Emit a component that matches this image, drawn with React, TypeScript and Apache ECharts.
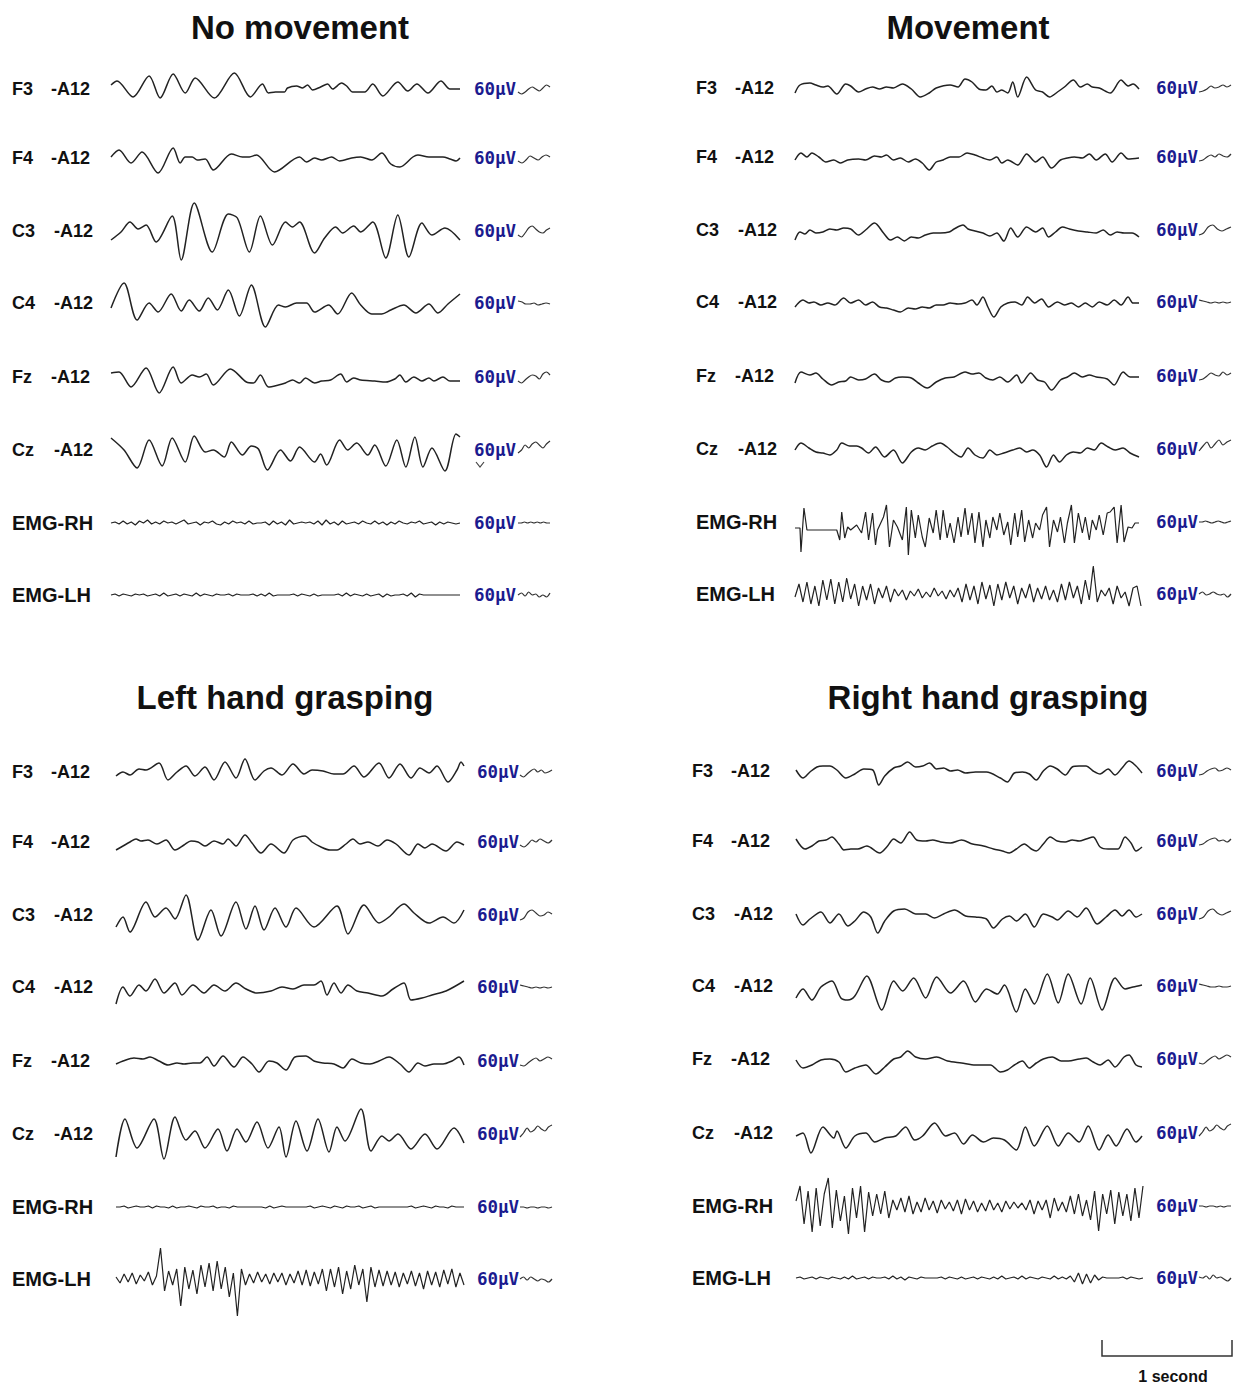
import React, { useEffect, useRef } from "react";
import * as echarts from "echarts";

// ---------- text content ----------
const conditions = ["No movement", "Movement", "Left hand grasping", "Right hand grasping"];
const channels = ["F3", "F4", "C3", "C4", "Fz", "Cz", "EMG-RH", "EMG-LH"];
const reference = "-A12";
const sensitivity = "60μV";
const timeBarLabel = "1 second";

// ---------- traces: [sample (128 Hz), amplitude] extrema, or uniformly sampled amplitude lists ----------
// No movement
const nmF3 = [[0,4],[6,8],[22,-8],[38,13],[49,-9],[62,15],[74,-4],[84,11],[103,-9],[123,16],[139,-8],[151,5],[157,-4],[164,-3],[173,-3],[176,1],[185,3],[191,1],[196,4],[201,-1],[209,2],[216,5],[221,0],[230,6],[235,3],[241,-3],[253,-3],[261,5],[271,-7],[286,7],[296,-2],[305,5],[316,-4],[329,8],[338,0],[348,0]];
const nmF4 = [[0,1],[8,8],[20,-5],[31,6],[47,-15],[62,10],[69,-5],[74,1],[81,1],[86,-2],[94,-1],[102,-12],[120,4],[131,1],[138,1],[145,3],[163,-14],[188,1],[195,-4],[203,0],[210,-2],[220,1],[228,-3],[240,0],[249,1],[260,-2],[270,5],[279,-6],[288,-9],[301,1],[306,3],[317,1],[331,1],[338,-1],[344,-3],[348,0]];
const nmC3 = [[0,-9],[10,-1],[19,9],[27,2],[35,6],[45,-11],[61,15],[70,-29],[83,28],[101,-21],[117,17],[126,13],[138,-21],[149,15],[161,-14],[174,9],[181,4],[188,9],[203,-22],[213,-7],[224,4],[231,-2],[242,5],[249,-1],[261,9],[274,-27],[286,16],[297,-26],[310,8],[320,-4],[333,3],[348,-9]];
const nmC4 = [[0,-5],[13,20],[26,-17],[38,0],[47,-9],[60,9],[70,-8],[78,3],[88,-8],[97,5],[106,-7],[117,13],[128,-13],[140,18],[154,-24],[167,-2],[174,-4],[185,0],[195,0],[203,-9],[217,-2],[226,-11],[240,10],[249,-2],[260,-11],[270,-11],[279,-7],[292,-2],[304,-10],[317,-1],[326,-10],[336,-1],[348,9]];
const nmFz = [[0,4],[8,5],[20,-10],[35,9],[48,-16],[62,10],[70,-6],[81,2],[88,0],[95,3],[102,-8],[119,8],[135,-5],[142,-6],[149,2],[157,-10],[167,-8],[174,-6],[181,-3],[188,-6],[194,-1],[203,-6],[210,-4],[219,-3],[229,3],[235,-5],[242,-1],[249,-3],[263,-4],[274,-5],[283,-2],[288,2],[294,-5],[302,0],[310,-4],[317,-1],[322,-4],[331,0],[338,-4],[348,-4]];
const nmCz = [[0,12],[13,0],[26,-18],[38,10],[51,-16],[61,12],[74,-12],[83,14],[94,-2],[102,0],[113,-7],[120,8],[131,-5],[140,4],[147,1],[156,-20],[169,0],[179,-11],[188,3],[203,-12],[209,-4],[215,-15],[228,10],[236,0],[245,7],[256,-5],[263,5],[274,-16],[285,10],[294,-17],[303,13],[311,-17],[320,2],[333,-21],[344,16],[348,13]];
const nmEmgRH = [0,1,-1,2,-1,1,-2,2,0,3,-1,1,-1,2,0,1,-1,1,3,-1,0,1,-2,1,0,2,-1,-2,1,-1,2,0,1,-1,2,-1,0,0,1,-2,2,-1,1,-2,3,-1,0,1,0,1,-1,2,-2,3,-1,1,-2,2,-1,0,1,-1,2,0,-1,2,-1,1,-2,1,-1,2,0,-1,1,0,2,-1,0,1,-2,1,-1,1,0,-1,0];
const nmEmgLH = [0,1,-1,1,0,-1,1,0,1,-1,0,1,-1,2,-1,0,1,-1,1,0,-1,2,-1,1,0,-1,1,0,0,1,-1,1,0,0,0,1,-1,1,-1,2,-1,0,0,0,0,1,-1,1,0,-1,1,-1,0,0,0,0,1,-1,2,-1,1,0,-1,1,-1,0,1,-2,1,-1,0,0,1,-1,2,-2,1,0,0,0,0,0,0,0,0,0,0];

// Movement
const mvF3 = [[0,-5],[5,3],[15,5],[21,3],[28,1],[33,2],[42,-6],[51,4],[56,2],[64,-4],[71,-1],[78,1],[85,-1],[92,1],[99,0],[108,4],[117,-1],[126,-9],[135,-5],[142,0],[156,3],[164,1],[171,9],[178,6],[185,-1],[192,-2],[198,2],[203,-4],[208,-2],[214,-5],[219,6],[224,-9],[233,11],[242,-2],[249,-4],[256,-9],[264,-4],[271,1],[280,8],[287,1],[294,4],[299,1],[306,0],[317,-5],[328,8],[335,2],[340,4],[346,-1]];
const mvF4 = [[0,-3],[6,4],[12,0],[17,4],[24,0],[31,-5],[39,-3],[46,-6],[53,-3],[64,-2],[71,-3],[80,1],[87,0],[92,2],[99,-3],[106,-1],[114,-5],[121,-2],[128,-6],[135,-13],[142,-5],[149,-3],[156,0],[165,0],[173,4],[181,2],[189,-1],[196,-3],[203,0],[208,-6],[214,-3],[224,-8],[233,3],[242,-5],[249,0],[258,-11],[267,-3],[274,-1],[281,0],[289,-1],[296,3],[303,-3],[312,3],[319,-5],[328,4],[335,-2],[346,-1]];
const mvC3 = [[0,-10],[5,-2],[10,-4],[15,0],[21,-3],[28,-2],[35,1],[42,0],[49,2],[56,1],[64,-5],[71,0],[80,7],[89,-3],[96,-10],[103,-7],[110,-11],[117,-7],[124,-8],[131,-5],[139,-3],[146,-3],[155,-2],[160,1],[169,5],[174,1],[181,-1],[189,-3],[196,-6],[203,-3],[210,-11],[217,2],[224,-7],[233,3],[242,-2],[249,2],[255,-7],[262,-2],[269,3],[276,1],[285,-1],[294,-2],[303,-3],[310,0],[317,-5],[324,-2],[331,-3],[339,-3],[346,-7]];
const mvC4 = [[0,-5],[8,2],[14,-1],[19,0],[26,-3],[33,-1],[40,-3],[49,4],[56,-1],[64,2],[71,-3],[78,0],[85,-5],[92,-6],[99,-8],[106,-10],[114,-6],[121,-7],[128,-5],[135,-6],[142,-3],[149,-3],[156,-1],[164,-2],[171,-1],[178,2],[183,-3],[189,5],[194,-5],[200,-15],[207,-5],[214,-1],[221,0],[228,-3],[234,5],[241,-1],[248,3],[255,-5],[264,0],[271,-3],[278,-1],[285,-5],[292,-1],[299,-5],[306,0],[314,-3],[321,2],[328,-3],[335,5],[340,-1],[346,-1]];
const mvFz = [[0,-7],[6,4],[15,1],[21,3],[28,-3],[37,-9],[44,-6],[51,-5],[56,-1],[64,-4],[71,-3],[80,2],[87,-4],[94,-6],[101,-2],[108,-1],[117,-2],[124,-7],[133,-12],[142,-6],[151,-2],[160,-1],[171,4],[178,2],[185,3],[192,-2],[199,-4],[206,-1],[214,-6],[223,1],[228,-7],[237,3],[244,-4],[251,-6],[258,-14],[267,-4],[274,-1],[281,3],[289,-1],[296,1],[303,-1],[314,-3],[321,-9],[330,4],[337,-1],[346,-1]];
const mvCz = [[0,-1],[6,6],[14,1],[21,-3],[28,-4],[35,-6],[42,-1],[47,6],[55,3],[62,3],[67,1],[74,-4],[81,2],[90,-8],[99,-1],[108,-14],[117,-3],[124,1],[131,-1],[138,3],[146,6],[153,2],[160,-4],[167,-8],[174,1],[181,-6],[189,-9],[196,-1],[203,-6],[210,-4],[219,-1],[226,1],[233,-3],[239,-1],[246,-6],[253,-18],[260,-6],[266,-13],[273,-6],[280,-3],[287,-4],[294,1],[301,-1],[308,6],[315,2],[322,-1],[330,1],[337,-4],[346,-8]];
const mvEmgRH = [[0,-6],[5,-6],[6,-30],[9,14],[12,-8],[21,-8],[42,-8],[45,-18],[47,10],[50,-16],[53,-5],[56,-8],[62,-3],[67,-11],[71,10],[74,-18],[78,9],[81,-23],[83,-8],[89,5],[92,17],[95,-25],[99,2],[103,-5],[108,-18],[112,15],[114,-33],[117,12],[121,-16],[124,7],[128,-15],[131,-25],[135,4],[139,-11],[142,12],[146,-18],[149,12],[153,-16],[156,-1],[160,-21],[164,5],[167,-15],[171,14],[174,-13],[178,9],[181,-21],[185,10],[189,-25],[192,2],[196,-16],[199,5],[203,-8],[206,9],[210,-13],[214,0],[217,-23],[221,9],[224,-15],[228,12],[231,-20],[235,2],[239,-16],[242,-1],[246,-8],[249,7],[253,15],[256,-25],[260,2],[264,-10],[267,5],[271,-21],[274,-1],[278,17],[281,-21],[285,9],[289,-11],[292,5],[296,-18],[299,2],[303,-8],[306,7],[310,-13],[314,9],[317,10],[321,15],[324,-21],[328,17],[331,-20],[335,-5],[339,-6],[342,-1],[346,-1]];
const mvEmgLH = [-3,10,-8,12,-10,8,-12,14,-6,15,-10,12,-8,16,-5,10,-12,8,-6,10,-10,6,-4,8,-8,5,-2,4,-6,3,-2,5,-4,2,-3,6,-2,3,-5,4,-3,6,-8,10,-6,8,-10,12,-5,9,-12,10,-6,12,-4,8,-10,6,-4,10,-8,6,-5,8,-6,4,-8,10,-6,12,-4,8,-10,14,-6,28,-8,4,-2,6,-10,8,-4,2,-12,6,8,-12];

// Left hand grasping
const lhF3 = [[0,-4],[7,0],[14,-3],[23,3],[30,2],[43,9],[52,-8],[61,0],[70,6],[79,-4],[89,5],[98,-8],[109,10],[120,-6],[129,13],[139,-8],[148,1],[155,4],[166,-3],[177,8],[188,-2],[196,2],[207,1],[218,-2],[227,-2],[238,6],[248,-5],[263,9],[273,-6],[284,8],[295,-6],[304,4],[313,-1],[321,6],[332,-10],[341,2],[345,10],[348,6]];
const lhF4 = [[0,-8],[7,-4],[14,0],[20,3],[25,1],[32,2],[41,-2],[50,2],[59,-8],[68,-3],[75,1],[82,0],[89,-4],[98,1],[107,-2],[112,3],[120,-4],[129,7],[136,-1],[145,-11],[155,-2],[168,-11],[177,2],[189,6],[196,0],[205,-5],[214,-8],[221,-8],[230,-2],[237,3],[244,-2],[252,0],[262,-4],[271,2],[280,-2],[293,-13],[302,-2],[309,-6],[316,-2],[330,-9],[341,0],[348,-3]];
const lhC3 = [[0,-12],[7,-2],[14,-17],[30,13],[39,-2],[50,7],[59,-4],[70,20],[82,-25],[95,5],[105,-21],[120,13],[130,-14],[139,9],[148,-15],[159,7],[170,-12],[180,7],[198,-12],[221,9],[232,-19],[248,10],[263,-8],[273,-2],[288,11],[298,2],[313,-8],[327,-2],[338,-8],[348,5]];
const lhC4 = [[0,-17],[7,0],[14,-9],[23,2],[30,-4],[39,8],[48,-6],[59,4],[66,-8],[77,2],[88,-6],[98,2],[109,-4],[120,4],[130,-2],[141,-6],[155,-4],[166,0],[177,-2],[188,2],[198,2],[205,6],[211,-8],[218,4],[225,-6],[232,2],[241,-4],[252,-6],[266,-9],[277,-2],[288,4],[295,-13],[306,-11],[316,-8],[330,-4],[348,6]];
const lhFz = [[0,-3],[7,0],[18,3],[27,2],[34,4],[43,0],[52,-4],[61,-2],[68,-3],[77,-2],[84,-2],[91,4],[98,-5],[107,5],[118,-6],[127,4],[136,-3],[143,-11],[153,0],[161,-2],[170,-9],[179,4],[190,5],[198,0],[207,-2],[218,-3],[227,-7],[236,2],[245,-2],[254,-3],[263,0],[273,4],[284,-3],[293,-11],[302,-2],[309,-5],[318,-3],[327,-3],[336,0],[343,4],[348,-4]];
const lhCz = [[0,-23],[9,15],[21,-14],[38,15],[48,-25],[59,17],[70,-6],[79,3],[89,-14],[102,5],[111,-17],[121,5],[130,-8],[141,12],[152,-14],[163,7],[170,-23],[180,13],[191,-17],[202,15],[213,-18],[221,7],[229,-7],[245,25],[255,-17],[266,-2],[273,-7],[282,0],[295,-15],[309,0],[321,-15],[338,6],[348,-9]];
const lhEmgRH = [0,0,1,-1,0,1,0,0,1,-1,1,0,0,-1,1,-1,0,0,1,0,-1,1,0,0,1,-1,0,0,-1,1,0,0,0,0,0,0,0,-1,1,-1,0,1,0,0,0,0,0,0,1,-1,0,1,0,-1,1,0,-1,1,0,0,1,-1,0,1,-1,0,0,0,0,0,0,0,0,1,-1,0,1,0,-1,1,0,0,-1,1,0,0,0];
const lhEmgLH = [2,-4,5,-3,6,-5,4,-2,7,-6,3,31,-12,8,-6,10,-27,12,-10,9,-15,14,-8,16,-12,18,-10,12,-18,6,-37,10,-6,5,-4,7,-3,5,-5,6,-3,6,-6,5,-4,8,-6,9,-7,7,-5,10,-12,10,-8,12,-15,8,-10,14,-6,10,-23,12,-8,9,-7,8,-6,7,-8,6,-5,8,-7,6,-10,8,-6,7,-8,9,-5,10,-8,6,-6];

// Right hand grasping
const rhF3 = [[0,1],[7,-7],[14,-1],[21,4],[27,5],[34,5],[41,1],[50,-7],[59,-3],[68,2],[77,1],[83,-14],[89,-5],[98,3],[105,5],[112,9],[120,4],[127,5],[134,8],[141,2],[148,3],[155,0],[162,1],[170,-2],[180,-1],[191,-1],[205,-7],[212,-11],[219,-2],[227,-1],[234,-3],[241,-9],[248,0],[255,5],[262,2],[270,-4],[277,4],[284,5],[291,5],[298,0],[305,-3],[313,2],[320,-4],[327,3],[334,10],[341,5],[347,-2]];
const rhF4 = [[0,2],[9,-8],[16,-5],[23,0],[30,1],[36,4],[43,-3],[48,-9],[55,-8],[62,-8],[71,-5],[84,-12],[91,-6],[98,2],[105,-2],[114,9],[121,1],[130,0],[137,1],[145,-1],[155,-2],[166,1],[177,-3],[188,-5],[198,-8],[207,-10],[214,-12],[221,-8],[229,-3],[236,-8],[241,-10],[248,-3],[255,4],[262,0],[270,-1],[277,1],[284,0],[291,2],[298,4],[305,-6],[313,-8],[323,-8],[330,4],[336,-2],[341,-10],[347,-6]];
const rhC3 = [[0,0],[7,-11],[14,-5],[25,2],[34,-9],[43,0],[52,-12],[59,-7],[68,2],[75,-3],[82,-19],[89,-7],[98,3],[109,5],[120,0],[130,0],[139,-4],[148,0],[159,4],[170,-2],[180,-3],[191,-5],[198,-14],[207,-5],[214,-2],[221,-7],[230,0],[239,-13],[248,0],[257,-3],[262,-6],[273,3],[282,-3],[291,6],[302,-10],[311,-3],[320,4],[327,-2],[334,4],[341,-3],[347,0]];
const rhC4 = [[0,-12],[7,-3],[16,-14],[25,-1],[36,5],[45,-12],[52,-14],[59,-10],[71,10],[86,-24],[98,5],[107,-5],[118,8],[130,-12],[141,9],[155,-7],[168,5],[180,-16],[191,-3],[202,-8],[209,1],[221,-26],[230,-3],[239,-18],[252,12],[263,-17],[273,12],[286,-18],[295,8],[307,-24],[320,8],[330,-3],[338,-1],[347,1]];
const rhFz = [[0,-1],[7,-9],[16,-6],[25,-1],[34,0],[43,-3],[50,-13],[59,-9],[70,-6],[80,-15],[89,-8],[98,0],[105,2],[112,8],[120,2],[130,0],[141,2],[152,-2],[166,-4],[180,-6],[195,-6],[205,-13],[212,-11],[219,-6],[227,-2],[234,-9],[241,-4],[248,0],[257,2],[266,-2],[273,-2],[284,0],[291,1],[298,-3],[305,-6],[313,-1],[320,-8],[329,2],[334,4],[341,-6],[347,-8]];
const rhCz = [[0,-3],[7,0],[15,-20],[27,6],[38,-5],[41,2],[50,-15],[59,-3],[70,0],[79,-9],[89,-5],[100,-3],[110,6],[119,-7],[127,-3],[139,10],[150,-3],[159,0],[168,-11],[177,-2],[188,-9],[198,-5],[209,-7],[221,-17],[230,6],[239,-13],[252,7],[263,-13],[273,0],[284,-9],[293,7],[304,-17],[313,-2],[321,-13],[332,4],[341,-9],[347,-3]];
const rhEmgRH = [5,20,-18,15,-26,18,-20,12,28,-22,16,-15,10,-28,18,-12,20,-26,14,-10,12,-8,15,-12,6,-4,8,-6,10,-8,4,-6,8,-4,5,-7,6,-3,4,-5,6,-8,7,-4,5,-6,3,-5,6,-4,3,-6,5,-3,4,-2,3,-4,6,-8,5,-4,6,-12,8,-5,4,-6,10,-8,12,-10,6,-14,15,-25,12,-8,16,-18,14,-10,12,-15,18,-12,20];
const rhEmgLH = [0,1,-1,0,1,-1,1,0,-1,1,0,-1,1,-1,2,-1,0,1,-1,1,0,0,1,-1,2,-1,1,-2,1,0,-1,1,0,0,0,0,1,-1,1,0,-1,1,-1,0,1,-1,1,0,-1,1,-1,2,-1,0,1,-1,2,-1,1,0,-1,1,0,-1,2,-1,1,-1,2,-4,5,-6,4,-5,3,-2,1,0,0,0,0,1,-1,1,0,-1,0];

// short calibration tails drawn after the sensitivity label
const nmTails = [[-3,-5,-3,0,2,0,-2,1,4,2],[-3,-5,-2,2,0,-2,1,3,1],[-4,-6,-2,3,5,2,-1,-2,1,3],[2,1,-1,-1,0,-2,-1,0,-1],[-4,-6,-3,0,2,1,-2,3,5,2],[-3,0,5,2,6,8,5,2,6,9],[0,0,1,0,1,0,1,0,1,0,0],[0,2,-1,3,0,1,-2,0,-2,2]];
const mvTails = [[-4,-3,-1,2,0,1,3,1,3],[-4,-3,0,2,0,3,1,0,3],[-5,-3,3,5,1,-1,1,3],[2,1,0,-1,0,-1,0,-1,0],[-4,-3,0,3,1,0,4,1,3],[-2,3,7,1,5,9,4,7,9],[0,0,1,0,-1,0,1,0,-1,0,1],[0,2,-1,0,2,0,-1,0,-3,0]];
const lhTails = [[-3,-5,-2,1,3,0,2,-1,0,2],[-3,-5,-2,2,0,3,1,-1,2],[-5,-3,3,5,2,-1,0,3,1],[2,1,0,-1,0,-1,0,-1,0],[-4,-5,-2,1,3,0,2,4,2],[-3,1,6,2,4,8,5,3,7,9],[0,0,-1,0,0,-1,0,0,-1,0],[0,2,-1,2,0,-2,0,-1,-3,0]];
const rhTails = [[-4,-3,0,2,3,0,1,3,1],[-4,-3,0,2,3,0,1,-1,2],[-5,-3,3,5,1,-1,1,3],[2,1,0,-1,-1,0,-1,-1,0],[-4,-5,-2,1,3,0,2,4,2],[-3,1,6,2,4,8,5,3,7,9],[0,0,-1,0,0,-1,0,-1,0,0],[1,0,2,-1,3,0,1,-1,-3,0]];

const EPOCH_SAMPLES = 348;

// ---------- layout (positions only) ----------
const panels = [
  { title: conditions[0], titleX: 300, titleY: 27, labelX: 12, traceX: 111, traceW: 349, calX: 474, tailX: 518,
    rows: [89, 158, 231, 303, 377, 450, 523, 595],
    traces: [nmF3, nmF4, nmC3, nmC4, nmFz, nmCz, nmEmgRH, nmEmgLH], tails: nmTails },
  { title: conditions[1], titleX: 968, titleY: 27, labelX: 696, traceX: 795, traceW: 346, calX: 1156, tailX: 1199,
    rows: [88, 157, 230, 302, 376, 449, 522, 594],
    traces: [mvF3, mvF4, mvC3, mvC4, mvFz, mvCz, mvEmgRH, mvEmgLH], tails: mvTails },
  { title: conditions[2], titleX: 285, titleY: 697, labelX: 12, traceX: 116, traceW: 348, calX: 477, tailX: 520,
    rows: [772, 842, 915, 987, 1061, 1134, 1207, 1279],
    traces: [lhF3, lhF4, lhC3, lhC4, lhFz, lhCz, lhEmgRH, lhEmgLH], tails: lhTails },
  { title: conditions[3], titleX: 988, titleY: 697, labelX: 692, traceX: 796, traceW: 347, calX: 1156, tailX: 1199,
    rows: [771, 841, 914, 986, 1059, 1133, 1206, 1278],
    traces: [rhF3, rhF4, rhC3, rhC4, rhFz, rhCz, rhEmgRH, rhEmgLH], tails: rhTails },
];

const ROW_HALF = 40;
const TAIL_W = 32;
const FONT = '"Liberation Sans", Arial, Helvetica, sans-serif';

function toPairs(arr: any[]): number[][] {
  if (Array.isArray(arr[0])) return arr as number[][];
  const n = arr.length;
  return arr.map((v: number, i: number) => [(i * EPOCH_SAMPLES) / (n - 1), v]);
}

function txt(text: string, x: number, y: number, size: number, opts: any = {}) {
  const align = opts.align || "left";
  return {
    type: "text",
    x, y,
    silent: true,
    style: {
      text,
      fill: opts.color || "#111",
      fontSize: size,
      fontWeight: opts.weight || "bold",
      fontFamily: opts.family || FONT,
      align, verticalAlign: "middle",
      textAlign: align, textVerticalAlign: "middle",
    },
  };
}

function buildOption() {
  const grid: any[] = [];
  const xAxis: any[] = [];
  const yAxis: any[] = [];
  const series: any[] = [];
  const graphic: any[] = [];

  panels.forEach((p) => {
    graphic.push(txt(p.title, p.titleX, p.titleY, 33, { align: "center" }));
    p.rows.forEach((rowY, r) => {
      const ch = channels[r];
      const isEmg = ch.startsWith("EMG");
      // labels
      graphic.push(txt(ch, p.labelX, rowY, isEmg ? 20 : 18));
      if (!isEmg) graphic.push(txt(reference, p.labelX + (ch.startsWith("C") ? 42 : 39), rowY, 18));
      graphic.push(txt(sensitivity, p.calX, rowY, 17.5, { color: "#1b1b8f", family: '"DejaVu Sans Mono", monospace' }));

      // main trace
      const gi = grid.length;
      grid.push({ left: p.traceX, top: rowY - ROW_HALF, width: p.traceW, height: ROW_HALF * 2 });
      xAxis.push({ gridIndex: gi, type: "value", min: 0, max: EPOCH_SAMPLES, show: false });
      yAxis.push({ gridIndex: gi, type: "value", min: -ROW_HALF, max: ROW_HALF, show: false });
      series.push({
        type: "line", xAxisIndex: gi, yAxisIndex: gi, data: toPairs(p.traces[r]),
        showSymbol: false, symbol: "none", silent: true, clip: false,
        smooth: isEmg ? false : 0.3,
        lineStyle: { color: "#222", width: isEmg ? 1.2 : 1.5 },
      });

      // tail
      const ti = grid.length;
      const tail = p.tails[r];
      grid.push({ left: p.tailX, top: rowY - ROW_HALF, width: TAIL_W, height: ROW_HALF * 2 });
      xAxis.push({ gridIndex: ti, type: "value", min: 0, max: tail.length - 1, show: false });
      yAxis.push({ gridIndex: ti, type: "value", min: -ROW_HALF, max: ROW_HALF, show: false });
      series.push({
        type: "line", xAxisIndex: ti, yAxisIndex: ti, data: tail.map((v: number, i: number) => [i, v]),
        showSymbol: false, symbol: "none", silent: true, clip: false, smooth: 0.3,
        lineStyle: { color: "#333", width: 1.2 },
      });
    });
  });

  // small stray pen mark under the Cz sensitivity label (No movement)
  graphic.push({
    type: "polyline", silent: true,
    shape: { points: [[476, 462], [480, 467], [484, 462]] },
    style: { stroke: "#444", lineWidth: 1.2, fill: null },
  });

  // 1 second time bar
  graphic.push({
    type: "polyline", silent: true,
    shape: { points: [[1102, 1340], [1102, 1356], [1232, 1356], [1232, 1340]] },
    style: { stroke: "#333", lineWidth: 1.5, fill: null },
  });
  graphic.push(txt(timeBarLabel, 1173, 1376, 16, { align: "center" }));

  return {
    animation: false,
    backgroundColor: "#ffffff",
    grid, xAxis, yAxis, series, graphic,
  };
}

export default function App() {
  const ref = useRef<HTMLDivElement>(null);
  useEffect(() => {
    document.body.style.margin = "0";
    if (!ref.current) return;
    const chart = echarts.init(ref.current, undefined, { renderer: "svg" });
    chart.setOption(buildOption() as any);
    return () => chart.dispose();
  }, []);
  return <div ref={ref} style={{ width: 1239, height: 1387 }} />;
}
